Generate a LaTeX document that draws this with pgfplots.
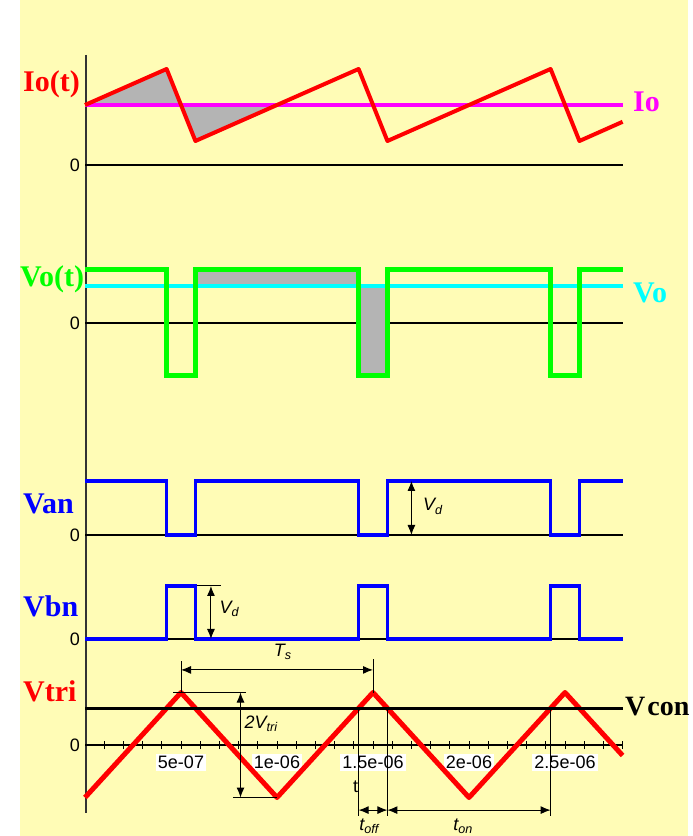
\documentclass[border=0pt]{standalone}
\usepackage{pgfplots}
\pgfplotsset{compat=1.18}
\usetikzlibrary{arrows.meta}
\usepackage{fontspec}
\setmainfont{Liberation Sans}
\newfontfamily\labelfont{Liberation Serif}

\definecolor{bgyellow}{RGB}{255,252,182}
\definecolor{shade}{RGB}{180,180,180}
\definecolor{sigred}{RGB}{255,0,0}
\definecolor{siggreen}{RGB}{0,255,0}
\definecolor{sigblue}{RGB}{0,0,255}
\definecolor{sigmagenta}{RGB}{255,0,255}
\definecolor{sigcyan}{RGB}{0,255,255}

\newcommand\biglabel{\labelfont\bfseries\fontsize{30}{36}\selectfont}
\newcommand\smalltext{\fontsize{18}{21}\selectfont}

\tikzset{
  dim/.style={line width=1pt, {Latex[length=10pt,width=8pt]}-{Latex[length=10pt,width=8pt]}},
  ext/.style={line width=1pt},
}

\pgfplotsset{
  panel/.style={
    x=192pt, xmin=0, xmax=2.8, clip=false, anchor=south west,
    axis x line=middle, axis y line=none,
    every inner x axis line/.append style={-},
    every outer x axis line/.append style={-},
    axis line style={-, line width=1.5pt, black},
    xtick=\empty, ytick=\empty,
  },
}

\begin{document}
\begin{tikzpicture}[x=1pt,y=1pt]
\useasboundingbox (0,0) rectangle (693,836);
\fill[white] (0,0) rectangle (693,836);
\fill[bgyellow] (20,0) rectangle (688,836);
% common time axis
\draw[line width=1.5pt, black!80] (86,781) -- (86,23);

% ---------- load current ----------
\begin{axis}[panel, y=60pt, ymin=0, ymax=1.8, at={(85pt,671pt)}]
  \addplot[fill=shade, draw=none] coordinates {(0,1) (0.425,1.6) (0.575,0.4) (1.0,1) (0,1)};
  \addplot[sigmagenta, line width=3.5pt] coordinates {(0,1) (2.8,1)};
  \addplot[sigred, line width=4pt, line join=round] coordinates {
    (0,1) (0.425,1.6) (0.575,0.4) (1.425,1.6) (1.575,0.4)
    (2.425,1.6) (2.575,0.4) (2.8,0.72)};
\end{axis}

% ---------- output voltage ----------
\begin{axis}[panel, y=53pt, ymin=-1.2, ymax=1.2, at={(85pt,449.4pt)}]
  \addplot[fill=shade, draw=none] coordinates {
    (0.575,0.7) (0.575,1) (1.425,1) (1.425,-1) (1.575,-1) (1.575,0.7) (0.575,0.7)};
  \addplot[sigcyan, line width=3.5pt] coordinates {(0,0.7) (2.8,0.7)};
  \addplot[siggreen, line width=5pt, line join=miter] coordinates {
    (0,1) (0.425,1) (0.425,-1) (0.575,-1) (0.575,1) (1.425,1) (1.425,-1)
    (1.575,-1) (1.575,1) (2.425,1) (2.425,-1) (2.575,-1) (2.575,1) (2.8,1)};
\end{axis}

% ---------- leg a ----------
\begin{axis}[panel, y=54pt, ymin=0, ymax=1.2, at={(85pt,301pt)}]
  \addplot[sigblue, line width=3.5pt, line join=miter] coordinates {
    (0,1) (0.425,1) (0.425,0) (0.575,0) (0.575,1) (1.425,1) (1.425,0)
    (1.575,0) (1.575,1) (2.425,1) (2.425,0) (2.575,0) (2.575,1) (2.8,1)};
  \draw[dim] (axis cs:1.70,1) -- (axis cs:1.70,0);
  \node[anchor=west, inner sep=0pt] at (axis cs:1.76,0.53) {\smalltext\itshape V\textsubscript{d}};
\end{axis}

% ---------- leg b ----------
\begin{axis}[panel, y=53pt, ymin=0, ymax=1.2, at={(85pt,197pt)}]
  \addplot[sigblue, line width=3.5pt, line join=miter] coordinates {
    (0,0) (0.425,0) (0.425,1) (0.575,1) (0.575,0) (1.425,0) (1.425,1)
    (1.575,1) (1.575,0) (2.425,0) (2.425,1) (2.575,1) (2.575,0) (2.8,0)};
  \draw[ext] (axis cs:0.583,1) -- (axis cs:0.71,1);
  \draw[dim] (axis cs:0.656,1) -- (axis cs:0.656,0);
  \node[anchor=west, inner sep=0pt] at (axis cs:0.70,0.57) {\smalltext\itshape V\textsubscript{d}};
\end{axis}

% ---------- carrier and control ----------
\begin{axis}[panel, y=52.5pt, ymin=-1.2, ymax=1.2, at={(85pt,28pt)},
    xtick={0.5,1,1.5,2,2.5},
    xticklabels={5e-07,1e-06,1.5e-06,2e-06,2.5e-06},
    minor xtick={0.1,0.2,0.3,0.4,0.6,0.7,0.8,0.9,1.1,1.2,1.3,1.4,1.6,1.7,1.8,1.9,
                 2.1,2.2,2.3,2.4,2.6,2.7,2.8},
    tick align=center,
    major tick length=8pt, minor tick length=8pt,
    every tick/.style={black, line width=1pt},
    xticklabel style={fill=white, inner sep=2pt, font=\smalltext, yshift=-5pt},
  ]
  \addplot[sigred, line width=5pt, line join=round] coordinates {
    (0,-1) (0.5,1) (1,-1) (1.5,1) (2,-1) (2.5,1) (2.8,-0.2)};
  \addplot[black, line width=3pt] coordinates {(0,0.7) (2.8,0.7)};
  % switching period
  \draw[ext] (axis cs:0.5,1) -- (axis cs:0.5,1.6);
  \draw[ext] (axis cs:1.5,1) -- (axis cs:1.5,1.64);
  \draw[dim] (axis cs:0.5,1.43) -- (axis cs:1.5,1.43);
  \node[inner sep=0pt] at (axis cs:1.03,1.77) {\smalltext\itshape T\textsubscript{s}};
  % peak-to-peak carrier
  \draw[ext] (axis cs:0.46,1) -- (axis cs:0.84,1);
  \draw[ext] (axis cs:0.77,-1) -- (axis cs:1.0,-1);
  \draw[dim] (axis cs:0.81,1) -- (axis cs:0.81,-1);
  \node[anchor=west, inner sep=0pt] at (axis cs:0.83,0.4) {\smalltext\itshape 2V\textsubscript{tri}};
  % off and on intervals
  \draw[ext] (axis cs:1.425,0.7) -- (axis cs:1.425,-1.35);
  \draw[ext] (axis cs:1.575,0.7) -- (axis cs:1.575,-1.35);
  \draw[ext] (axis cs:2.425,0.7) -- (axis cs:2.425,-1.35);
  \draw[dim] (axis cs:1.425,-1.24) -- (axis cs:1.575,-1.24);
  \draw[dim] (axis cs:1.575,-1.24) -- (axis cs:2.425,-1.24);
  \node[inner sep=0pt] at (axis cs:1.48,-1.55) {\smalltext\itshape t\textsubscript{off}};
  \node[inner sep=0pt] at (axis cs:1.97,-1.55) {\smalltext\itshape t\textsubscript{on}};
  \node[inner sep=0pt] at (axis cs:1.41,-0.8) {\smalltext t};
\end{axis}

% zero labels
\foreach \yy in {671,513,301,197,91}
  \node[anchor=east, inner sep=0pt] at (80,\yy) {\smalltext 0};

% signal names
\node[anchor=base west, inner sep=0pt, text=sigred] at (23,744) {\biglabel Io(t)};
\node[anchor=base west, inner sep=0pt, text=siggreen] at (20,549) {\biglabel Vo(t)};
\node[anchor=base west, inner sep=0pt, text=sigblue] at (23,322) {\biglabel Van};
\node[anchor=base west, inner sep=0pt, text=sigblue] at (23,219) {\biglabel Vbn};
\node[anchor=base west, inner sep=0pt, text=sigred] at (23,134) {\biglabel Vtri};
\node[anchor=base west, inner sep=0pt, text=sigmagenta] at (633,724) {\biglabel Io};
\node[anchor=base west, inner sep=0pt, text=sigcyan] at (633,533) {\biglabel Vo};
\node[anchor=base west, inner sep=0pt, text=black] at (625,120) {\labelfont\bfseries\fontsize{28}{34}\selectfont V\kern2pt con};
\end{tikzpicture}
\end{document}
